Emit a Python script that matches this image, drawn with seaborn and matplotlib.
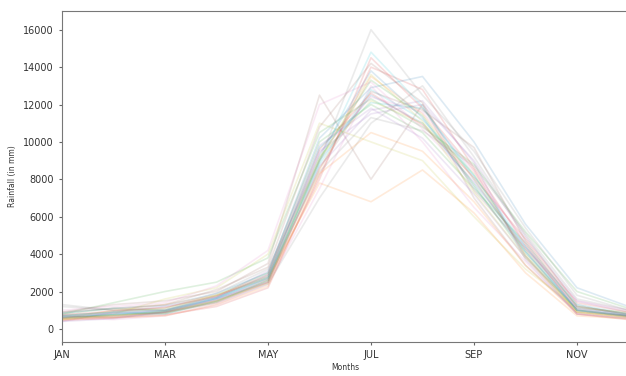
import pandas as pd
import seaborn as sns
import matplotlib
matplotlib.use('Agg')
import matplotlib.pyplot as plt

months = ['JAN', 'FEB', 'MAR', 'APR', 'MAY', 'JUN',
          'JUL', 'AUG', 'SEP', 'OCT', 'NOV', 'DEC']

# one value per year for every month (rainfall in mm)
jan = [600, 500, 800, 700, 400, 900, 600, 1200, 500, 700, 650, 550, 800, 450, 750,
       600, 1000, 550, 700, 650, 850, 500, 600, 750, 400, 900, 650, 1300, 550, 700]
feb = [800, 700, 1100, 600, 900, 1300, 500, 1000, 800, 900, 750, 1000, 1400, 600, 850,
       700, 1200, 650, 900, 800, 1100, 600, 750, 950, 550, 1100, 850, 1000, 700, 900]
mar = [900, 850, 1000, 900, 1200, 1500, 700, 1100, 1600, 800, 950, 1300, 2000, 750, 1000,
       900, 1400, 800, 1100, 950, 1250, 700, 850, 1150, 900, 1300, 1000, 1000, 950, 1000]
apr = [1600, 1500, 1800, 1400, 1700, 2000, 1300, 1900, 2200, 1500, 1650, 1800, 2500, 1200, 1700,
       1500, 2300, 1400, 1800, 1600, 1900, 1300, 1450, 1750, 1600, 2100, 1550, 1700, 1500, 1650]
may = [2700, 2600, 3000, 2500, 2800, 3500, 2400, 3200, 4000, 2600, 2900, 2700, 3800, 2200, 3100,
       2500, 4200, 2400, 2800, 2700, 3000, 2300, 2600, 2900, 2500, 3300, 2650, 2800, 2450, 2750]
jun = [9000, 8500, 10000, 8000, 9500, 12500, 7500, 9000, 11000, 8800, 9300, 7800, 10500, 8200, 9800,
       8600, 12000, 7000, 9200, 8900, 10200, 8300, 9100, 9600, 8700, 10800, 9400, 8400, 9000, 9700]
jul = [12500, 13500, 12000, 14500, 11500, 8000, 13000, 16000, 10000, 12800, 13800, 6800, 12300, 14000, 11800,
       12700, 13200, 11000, 12200, 14800, 12900, 10500, 13300, 12600, 11700, 14200, 12400, 11300, 13600, 12100]
aug = [11000, 11500, 10500, 11800, 12000, 12000, 10000, 12500, 9000, 11200, 11300, 8500, 10800, 12800, 10200,
       11700, 10700, 13000, 11000, 11900, 13500, 9500, 11400, 10900, 12200, 12100, 11600, 10600, 11100, 11800]
sep = [7800, 8000, 7500, 8500, 9000, 7000, 6500, 9500, 6000, 8200, 7600, 6200, 8800, 8600, 7200,
       9700, 7900, 9200, 8300, 8000, 10000, 6800, 7700, 8100, 8900, 7400, 8400, 8700, 7300, 8200]
oct_ = [4400, 4200, 4600, 3900, 4900, 3400, 3600, 5400, 3200, 4400, 4100, 3000, 5200, 4500, 3800,
        4700, 4300, 5000, 4000, 4100, 5600, 3400, 3900, 4800, 3700, 4300, 4600, 5100, 3800, 4200]
nov = [1000, 900, 1200, 800, 1500, 900, 800, 1800, 1100, 1300, 1000, 700, 2000, 1000, 1100,
       1200, 1500, 1300, 900, 1100, 2200, 800, 1000, 1400, 800, 1200, 1100, 1600, 900, 1000]
dec = [700, 650, 800, 600, 900, 700, 500, 1000, 900, 800, 650, 550, 1100, 700, 750,
       800, 1000, 700, 600, 750, 1200, 500, 700, 900, 550, 800, 700, 1000, 650, 700]

cols = [jan, feb, mar, apr, may, jun, jul, aug, sep, oct_, nov, dec]
wide = pd.DataFrame(dict(zip(months, cols)))
wide['year'] = [str(i) for i in range(len(jan))]
df = wide.melt(id_vars='year', var_name='month', value_name='rain')

fig = plt.figure(figsize=(6.26, 3.76), dpi=100)
ax = fig.add_axes([0.099, 0.0904, 0.905, 0.8803])

sns.lineplot(data=df, x='month', y='rain', hue='year',
             palette=sns.color_palette('tab10', len(jan)),
             sort=False, legend=False, alpha=0.15, linewidth=1.2, ax=ax)

ax.set_xticks(range(0, 12, 2))
ax.set_xticklabels(months[::2], fontsize=7, color='#333333')
ax.set_xlim(0, 11)
ax.set_ylim(-700, 17000)
ax.set_yticks(range(0, 16001, 2000))
ax.tick_params(axis='y', labelsize=7, labelcolor='#333333')
ax.tick_params(length=2.5, color='#666666')
for s in ax.spines.values():
    s.set_color('#777777')
ax.set_xlabel('Months', fontsize=5.5, labelpad=2, color='#333333')
ax.set_ylabel('Rainfall (in mm)', fontsize=5.5, color='#333333')

fig.savefig('out.png', dpi=100)
